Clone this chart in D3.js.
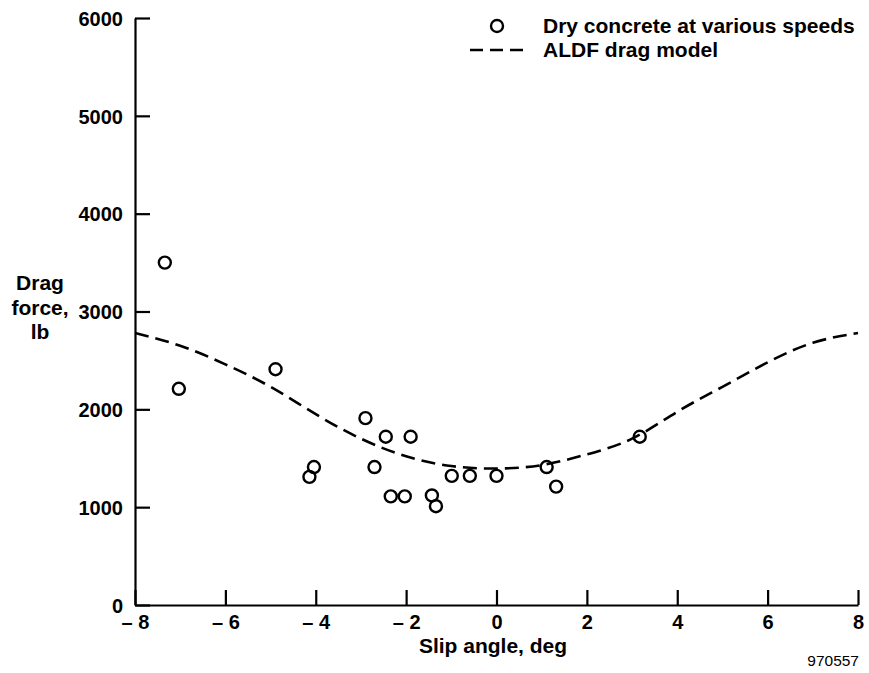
<!DOCTYPE html>
<html>
<head>
<meta charset="utf-8">
<script src="https://cdn.jsdelivr.net/npm/d3@7"></script>
<style>
  html, body { margin: 0; padding: 0; background: #fff; }
  svg { display: block; font-family: "Liberation Sans", Arial, Helvetica, sans-serif; }
</style>
</head>
<body>
<svg id="chart" width="869" height="673"></svg>
<script>
// ---- data ----
const slipAngle = [-7.34, -7.03, -4.89, -4.14, -4.04, -2.90, -2.70, -2.45, -2.34, -2.03, -1.90, -1.43, -1.34, -0.99, -0.59, 0.00, 1.11, 1.32, 3.17];
const dragForce = [3500, 2210, 2410, 1310, 1410, 1910, 1410, 1720, 1110, 1110, 1720, 1120, 1010, 1320, 1320, 1320, 1410, 1210, 1720];

const modelAngle = [-8, -7, -6, -5, -4, -3, -2, -1, 0, 1, 2, 3, 4, 5, 6, 7, 8];
const modelForce = [2780, 2650, 2460, 2230, 1950, 1700, 1520, 1420, 1395, 1430, 1540, 1700, 1975, 2230, 2480, 2680, 2780];

const xTicks = [-8, -6, -4, -2, 0, 2, 4, 6, 8];
const yTicks = [0, 1000, 2000, 3000, 4000, 5000, 6000];

const legendLabels = ["Dry concrete at various speeds", "ALDF drag model"];

// ---- layout ----
const svg = d3.select("#chart");
const x = d3.scaleLinear().domain([-8, 8]).range([135, 858]);
const y = d3.scaleLinear().domain([0, 6000]).range([605, 18]);

const fmtX = d => d < 0 ? "\u2013 " + Math.abs(d) : String(d);

// x axis
const gx = svg.append("g").attr("transform", `translate(0,${y(0)})`)
  .call(d3.axisBottom(x).tickValues(xTicks).tickFormat(fmtX)
    .tickSizeInner(-15).tickSizeOuter(0).tickPadding(10));
// y axis
const gy = svg.append("g").attr("transform", `translate(${x(-8)},0)`)
  .call(d3.axisLeft(y).tickValues(yTicks).tickFormat(d3.format("d"))
    .tickSizeInner(-15).tickSizeOuter(0).tickPadding(12));

[gx, gy].forEach(g => {
  g.select(".domain").attr("stroke", "#000").attr("stroke-width", 2.2);
  g.selectAll(".tick line").attr("stroke", "#000").attr("stroke-width", 2.2);
  g.selectAll(".tick text").attr("fill", "#000")
    .style("font-size", "20px").style("font-weight", "bold");
});
gy.selectAll(".tick text").attr("dy", "0.36em");

// model curve
const line = d3.line()
  .x((d, i) => x(modelAngle[i]))
  .y(d => y(d))
  .curve(d3.curveNatural);
svg.append("path")
  .attr("d", line(modelForce))
  .attr("fill", "none")
  .attr("stroke", "#000")
  .attr("stroke-width", 2.6)
  .attr("stroke-dasharray", "14,7");

// data points
svg.append("g").selectAll("circle")
  .data(slipAngle)
  .join("circle")
  .attr("cx", d => x(d))
  .attr("cy", (d, i) => y(dragForce[i]))
  .attr("r", 6)
  .attr("fill", "none")
  .attr("stroke", "#000")
  .attr("stroke-width", 2.4);

// axis titles
svg.append("text")
  .attr("x", 493).attr("y", 653)
  .attr("text-anchor", "middle")
  .style("font-size", "21px").style("font-weight", "bold")
  .text("Slip angle, deg");

const yTitle = svg.append("text")
  .attr("text-anchor", "middle")
  .style("font-size", "21px").style("font-weight", "bold");
["Drag", "force,", "lb"].forEach((t, i) => {
  yTitle.append("tspan").attr("x", 40).attr("y", 290 + i * 24.5).text(t);
});

// legend
const lg = svg.append("g");
lg.append("circle").attr("cx", 497).attr("cy", 26).attr("r", 6)
  .attr("fill", "none").attr("stroke", "#000").attr("stroke-width", 2.4);
lg.append("line").attr("x1", 470).attr("x2", 524).attr("y1", 50).attr("y2", 50)
  .attr("stroke", "#000").attr("stroke-width", 2.6).attr("stroke-dasharray", "13,7");
legendLabels.forEach((t, i) => {
  lg.append("text").attr("x", 543).attr("y", 33 + i * 24)
    .style("font-size", "21px").style("font-weight", "bold").text(t);
});

// figure number
svg.append("text")
  .attr("x", 859).attr("y", 666)
  .attr("text-anchor", "end")
  .style("font-size", "15.5px")
  .text("970557");
</script>
</body>
</html>
